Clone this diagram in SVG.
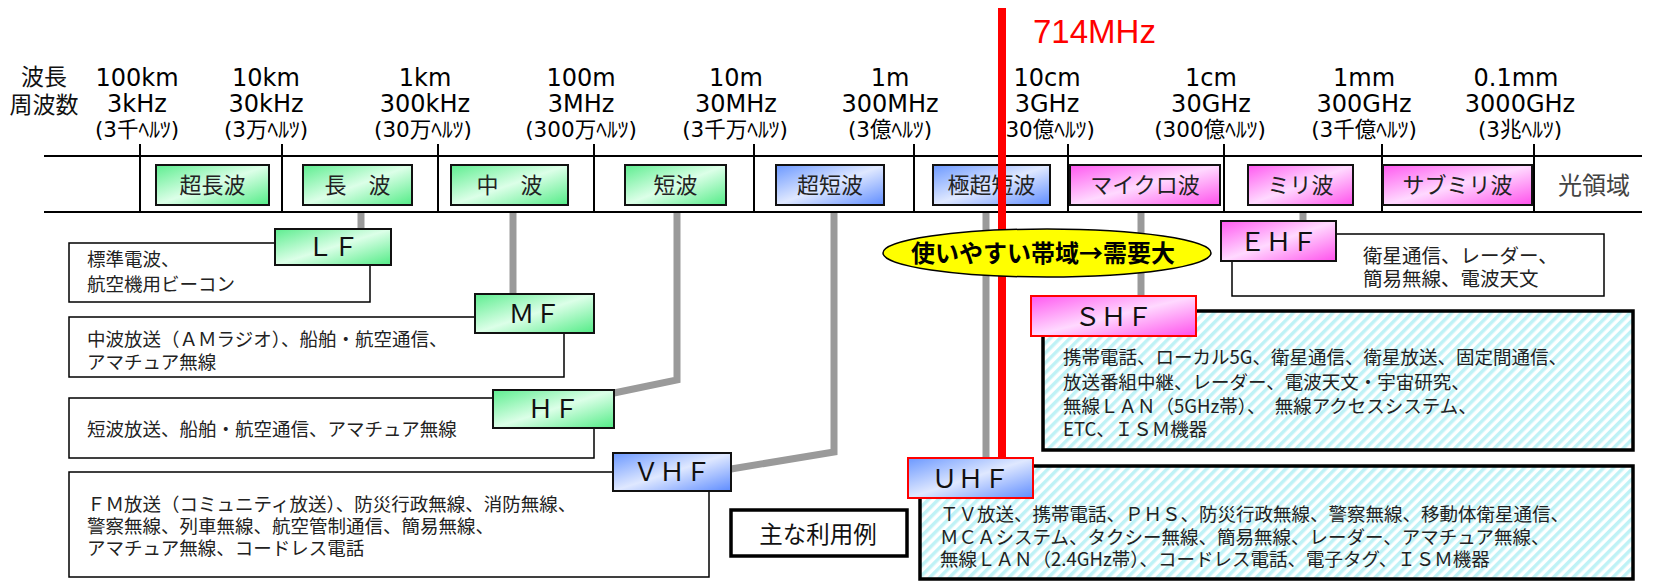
<svg xmlns="http://www.w3.org/2000/svg" width="1655" height="581" viewBox="0 0 1655 581">
<defs>
<linearGradient id="gG" x1="0" y1="0" x2="1" y2="1"><stop offset="0" stop-color="#5ded8f"/><stop offset="0.5" stop-color="#dcffe8"/><stop offset="1" stop-color="#52ec86"/></linearGradient>
<linearGradient id="gB" x1="0" y1="0" x2="1" y2="1"><stop offset="0" stop-color="#6b98ff"/><stop offset="0.5" stop-color="#dfe8ff"/><stop offset="1" stop-color="#5e8cff"/></linearGradient>
<linearGradient id="gM" x1="0" y1="0" x2="1" y2="1"><stop offset="0" stop-color="#ff58f0"/><stop offset="0.5" stop-color="#ffd9ff"/><stop offset="1" stop-color="#ff50ec"/></linearGradient>
<pattern id="hatch" patternUnits="userSpaceOnUse" width="7" height="7" patternTransform="rotate(45)"><rect width="7" height="7" fill="#fff"/><rect width="3.5" height="7" fill="#bff2f6"/></pattern>
</defs>
<style>
.hdr{font-family:"DejaVu Sans","Noto Sans CJK JP",sans-serif;font-size:24px;fill:#000;text-anchor:middle}
.hz{font-family:"DejaVu Sans","Noto Sans CJK JP",sans-serif;font-size:21.5px;fill:#000;text-anchor:middle}
.jp{font-family:"Noto Sans CJK JP",sans-serif;font-size:23px;fill:#111;text-anchor:middle}
.band{font-family:"Noto Sans CJK JP",sans-serif;font-size:22px;fill:#222;text-anchor:middle}
.lbl{font-family:"Noto Sans CJK JP",sans-serif;font-size:26px;fill:#111;text-anchor:middle}
.desc{font-family:"Noto Sans CJK JP",sans-serif;font-size:18.5px;fill:#222}
.ln{stroke:#000;stroke-width:2;fill:none}
.bx{stroke:#111;stroke-width:2}
.box{fill:#fff;stroke:#000;stroke-width:1.5}
.hbox{fill:url(#hatch);stroke:#000;stroke-width:3.5}
.conn{stroke:#9a9a9a;stroke-width:7;fill:none;stroke-linejoin:miter}
.g{fill:url(#gG)}
.b{fill:url(#gB)}
.m{fill:url(#gM)}
</style>
<rect width="1655" height="581" fill="#fff"/>

<g id="header">
<text class="jp" x="44" y="85">波長</text>
<text class="jp" x="44" y="113">周波数</text>
<text class="hdr" x="137" y="86">100km</text><text class="hdr" x="137" y="112">3kHz</text><text class="hz" x="137" y="137">(3千ﾍﾙﾂ)</text>
<text class="hdr" x="266" y="86">10km</text><text class="hdr" x="266" y="112">30kHz</text><text class="hz" x="266" y="137">(3万ﾍﾙﾂ)</text>
<text class="hdr" x="425" y="86">1km</text><text class="hdr" x="425" y="112">300kHz</text><text class="hz" x="423" y="137">(30万ﾍﾙﾂ)</text>
<text class="hdr" x="581" y="86">100m</text><text class="hdr" x="581" y="112">3MHz</text><text class="hz" x="581" y="137">(300万ﾍﾙﾂ)</text>
<text class="hdr" x="736" y="86">10m</text><text class="hdr" x="736" y="112">30MHz</text><text class="hz" x="735" y="137">(3千万ﾍﾙﾂ)</text>
<text class="hdr" x="890" y="86">1m</text><text class="hdr" x="890" y="112">300MHz</text><text class="hz" x="890" y="137">(3億ﾍﾙﾂ)</text>
<text class="hdr" x="1047" y="86">10cm</text><text class="hdr" x="1047" y="112">3GHz</text><text class="hz" x="1046" y="137">(30億ﾍﾙﾂ)</text>
<text class="hdr" x="1211" y="86">1cm</text><text class="hdr" x="1211" y="112">30GHz</text><text class="hz" x="1210" y="137">(300億ﾍﾙﾂ)</text>
<text class="hdr" x="1364" y="86">1mm</text><text class="hdr" x="1364" y="112">300GHz</text><text class="hz" x="1364" y="137">(3千億ﾍﾙﾂ)</text>
<text class="hdr" x="1516" y="86">0.1mm</text><text class="hdr" x="1520" y="112">3000GHz</text><text class="hz" x="1520" y="137">(3兆ﾍﾙﾂ)</text>
</g>

<g id="band">
<path class="ln" d="M44 156H1642M44 212H1642M140 144V212M282 144V212M438 144V212M594 144V212M754 144V212M914 144V212M1068 144V212M1224 144V212M1382 144V212M1534 144V212"/>
<text x="1558" y="194" style="font-family:'Noto Sans CJK JP',sans-serif;font-size:24px;fill:#444">光領域</text>
</g>
<g id="band-vlf"><rect class="bx g" x="156" y="165" width="113" height="40"/><text class="band" x="212.5" y="193">超長波</text></g>
<g id="band-lf"><rect class="bx g" x="303" y="165" width="109" height="40"/><text class="band" x="357.5" y="193">長　波</text></g>
<g id="band-mf"><rect class="bx g" x="451" y="165" width="117" height="40"/><text class="band" x="509.5" y="193">中　波</text></g>
<g id="band-hf"><rect class="bx g" x="625" y="165" width="101" height="40"/><text class="band" x="675.5" y="193">短波</text></g>
<g id="band-vhf"><rect class="bx b" x="776" y="165" width="108" height="40"/><text class="band" x="830" y="193">超短波</text></g>
<g id="band-uhf"><rect class="bx b" x="933" y="165" width="117" height="40"/><text class="band" x="991.5" y="193">極超短波</text></g>
<g id="band-shf"><rect class="bx m" x="1070" y="165" width="150" height="40"/><text class="band" x="1145" y="193">マイクロ波</text></g>
<g id="band-ehf"><rect class="bx m" x="1248" y="165" width="105" height="40"/><text class="band" x="1300.5" y="193">ミリ波</text></g>
<g id="band-sub"><rect class="bx m" x="1383" y="165" width="149" height="40"/><text class="band" x="1457.5" y="193">サブミリ波</text></g>

<g id="connectors">
<path class="conn" d="M361 213V230"/>
<path class="conn" d="M513 213V295"/>
<path class="conn" d="M677 213V380L614 393"/>
<path class="conn" d="M834 213V452L731 469"/>
<path class="conn" d="M986 213V459"/>
<path class="conn" d="M1141 213V297"/>
<path class="conn" d="M1303 213V222"/>
</g>

<g id="lf-desc"><rect class="box" x="69" y="243" width="301" height="59"/><text class="desc" x="87" y="266">標準電波、</text><text class="desc" x="87" y="291">航空機用ビーコン</text></g>
<g id="mf-desc"><rect class="box" x="69" y="317" width="495" height="60"/><text class="desc" x="87" y="346">中波放送（ＡＭラジオ）、船舶・航空通信、</text><text class="desc" x="87" y="369">アマチュア無線</text></g>
<g id="hf-desc"><rect class="box" x="69" y="398" width="525" height="60"/><text class="desc" x="87" y="436">短波放送、船舶・航空通信、アマチュア無線</text></g>
<g id="vhf-desc"><rect class="box" x="69" y="472" width="640" height="105"/><text class="desc" x="87" y="511">ＦＭ放送（コミュニティ放送）、防災行政無線、消防無線、</text><text class="desc" x="87" y="533">警察無線、列車無線、航空管制通信、簡易無線、</text><text class="desc" x="87" y="555">アマチュア無線、コードレス電話</text></g>
<g id="legend"><rect x="731" y="510" width="176" height="46" fill="#fff" stroke="#000" stroke-width="3.5"/><text x="818" y="543" style="font-family:'Noto Sans CJK JP',sans-serif;font-size:23.5px;fill:#111;text-anchor:middle">主な利用例</text></g>
<g id="uhf-desc"><rect class="hbox" x="920" y="466" width="713" height="113"/><text class="desc" x="940" y="521">ＴＶ放送、携帯電話、ＰＨＳ、防災行政無線、警察無線、移動体衛星通信、</text><text class="desc" x="940" y="544">ＭＣＡシステム、タクシー無線、簡易無線、レーダー、アマチュア無線、</text><text class="desc" x="940" y="566">無線ＬＡＮ（2.4GHz帯）、コードレス電話、電子タグ、ＩＳＭ機器</text></g>
<g id="shf-desc"><rect class="hbox" x="1043" y="311" width="590" height="139"/><text class="desc" x="1063" y="364">携帯電話、ローカル5G、衛星通信、衛星放送、固定間通信、</text><text class="desc" x="1063" y="389">放送番組中継、レーダー、電波天文・宇宙研究、</text><text class="desc" x="1063" y="413">無線ＬＡＮ（5GHz帯）、　無線アクセスシステム、</text><text class="desc" x="1063" y="436">ETC、ＩＳＭ機器</text></g>
<g id="ehf-desc"><rect class="box" x="1232" y="234" width="372" height="62"/><text class="desc" x="1363" y="263" style="font-size:19.5px">衛星通信、レーダー、</text><text class="desc" x="1363" y="286" style="font-size:19.5px">簡易無線、電波天文</text></g>

<g id="LF"><rect class="bx g" x="275" y="229" width="116" height="36"/><text class="lbl" x="333" y="256">ＬＦ</text></g>
<g id="MF"><rect class="bx g" x="475" y="294" width="119" height="39"/><text class="lbl" x="534.5" y="323">ＭＦ</text></g>
<g id="HF"><rect class="bx g" x="493" y="390" width="121" height="38"/><text class="lbl" x="553.5" y="418">ＨＦ</text></g>
<g id="VHF"><rect class="bx b" x="613" y="453" width="118" height="38"/><text class="lbl" x="672" y="481">ＶＨＦ</text></g>
<g id="SHF"><rect class="m" x="1031" y="296" width="165" height="40" stroke="#f00" stroke-width="2"/><text class="lbl" x="1113.5" y="326">ＳＨＦ</text></g>
<g id="EHF"><rect class="bx m" x="1221" y="221" width="115" height="40"/><text class="lbl" x="1278.5" y="251">ＥＨＦ</text></g>

<g id="limit">
<rect x="998" y="8" width="8" height="452" fill="#f00"/>
<text x="1033" y="43" style="font-family:'Liberation Sans',sans-serif;font-size:33px;fill:#f00">714MHz</text>
</g>

<g id="demand"><ellipse cx="1047" cy="253" rx="164" ry="24" fill="#ff0" stroke="#000" stroke-width="1.5"/><text x="1043" y="262" style="font-family:'Noto Sans CJK JP',sans-serif;font-size:24px;font-weight:bold;fill:#000;text-anchor:middle">使いやすい帯域→需要大</text></g>

<g id="UHF"><rect class="b" x="908" y="458" width="125" height="40" stroke="#f00" stroke-width="2"/><text class="lbl" x="970.5" y="488">ＵＨＦ</text></g>
</svg>
